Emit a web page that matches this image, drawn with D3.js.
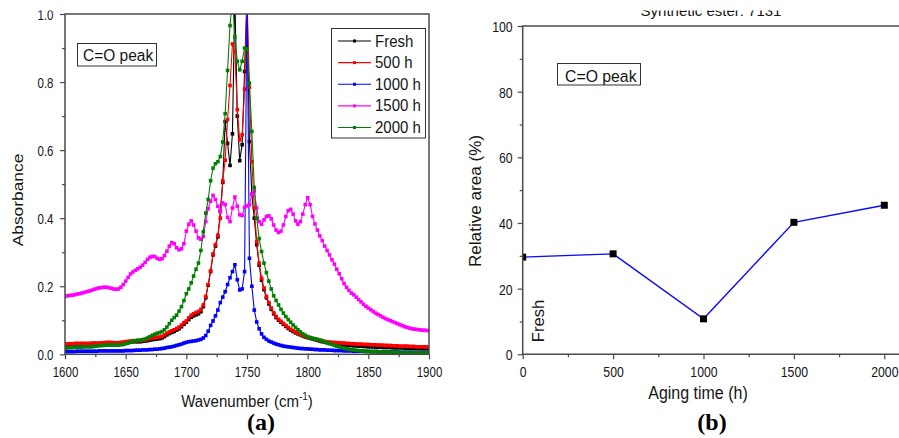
<!DOCTYPE html>
<html>
<head>
<meta charset="utf-8">
<script src="https://cdn.jsdelivr.net/npm/d3@7"></script>
<style>
  html, body { margin: 0; padding: 0; background: #fff; overflow: hidden; }
  svg { display: block; }
</style>
</head>
<body>
<script>
// ---- data (a): FTIR spectra, one value every 2 cm-1 from 1600 to 1900 ----
var wavenumber = d3.range(1600, 1901, 2);

var fresh = [
  .027,.028,.028,.028,.029,.029,.029,.029,.029,.029,
  .029,.030,.030,.030,.030,.031,.031,.032,.032,.032,
  .031,.031,.031,.032,.033,.034,.035,.036,.037,.037,
  .037,.037,.038,.039,.040,.042,.043,.044,.045,.046,
  .048,.052,.057,.061,.064,.067,.071,.075,.081,.088,
  .094,.102,.109,.113,.116,.119,.125,.140,.166,.203,
  .243,.292,.318,.345,.420,.505,.684,.620,.555,.648,
  1.05,.700,.569,.616,.831,1.05,.625,.470,.400,.322,
  .262,.218,.190,.166,.148,.132,.119,.108,.100,.094,
  .088,.082,.076,.071,.067,.063,.060,.057,.054,.051,
  .049,.047,.045,.043,.041,.039,.037,.036,.034,.033,
  .032,.031,.030,.029,.028,.028,.027,.026,.026,.025,
  .025,.024,.024,.023,.023,.022,.022,.022,.021,.021,
  .021,.020,.020,.020,.020,.019,.019,.019,.019,.019,
  .018,.018,.018,.018,.018,.018,.017,.017,.017,.017,
  .017];

var h500 = [
  .030,.031,.031,.031,.032,.032,.032,.032,.032,.032,
  .032,.033,.033,.033,.033,.034,.034,.035,.035,.035,
  .034,.034,.034,.035,.036,.037,.038,.039,.040,.040,
  .040,.040,.041,.042,.044,.046,.048,.049,.050,.051,
  .053,.057,.062,.066,.069,.072,.076,.080,.086,.093,
  .098,.107,.115,.119,.123,.126,.132,.145,.170,.205,
  .245,.295,.322,.350,.400,.510,.570,.690,.790,.912,
  .890,.719,.630,.645,.779,1.05,.785,.566,.430,.331,
  .268,.224,.195,.170,.152,.136,.122,.111,.103,.097,
  .091,.085,.079,.074,.069,.066,.062,.059,.056,.053,
  .051,.049,.047,.045,.043,.041,.040,.038,.037,.036,
  .035,.035,.034,.034,.033,.033,.032,.032,.031,.031,
  .030,.030,.030,.029,.029,.029,.028,.028,.028,.027,
  .027,.027,.026,.026,.026,.025,.025,.025,.024,.024,
  .024,.024,.023,.023,.023,.022,.022,.022,.022,.022,
  .021];

var h1000 = [
  .008,.008,.008,.008,.008,.009,.009,.009,.009,.009,
  .009,.009,.009,.009,.010,.010,.010,.010,.010,.010,
  .010,.010,.010,.010,.010,.011,.011,.011,.011,.012,
  .012,.012,.013,.013,.013,.014,.014,.015,.015,.016,
  .017,.018,.020,.021,.022,.024,.026,.028,.030,.033,
  .035,.037,.038,.039,.040,.042,.044,.048,.055,.068,
  .085,.098,.113,.130,.152,.168,.184,.205,.225,.243,
  .263,.219,.189,.192,.243,1.05,.282,.200,.130,.095,
  .075,.060,.050,.044,.039,.036,.033,.030,.028,.026,
  .024,.023,.022,.021,.020,.019,.018,.017,.017,.016,
  .016,.015,.015,.014,.014,.013,.013,.013,.012,.012,
  .012,.011,.011,.011,.011,.010,.010,.010,.010,.009,
  .009,.009,.009,.009,.008,.008,.008,.008,.008,.008,
  .007,.007,.007,.007,.007,.007,.007,.007,.006,.006,
  .006,.006,.006,.006,.006,.006,.006,.006,.006,.006,
  .006];

var h1500 = [
  .171,.172,.173,.174,.175,.177,.178,.180,.182,.184,
  .186,.188,.191,.193,.195,.196,.197,.197,.196,.194,
  .192,.191,.192,.197,.205,.215,.226,.236,.242,.247,
  .251,.256,.262,.270,.279,.285,.288,.287,.282,.279,
  .281,.290,.303,.318,.328,.325,.313,.307,.310,.325,
  .362,.382,.392,.380,.362,.342,.338,.346,.390,.428,
  .450,.467,.455,.435,.420,.445,.440,.402,.390,.430,
  .462,.435,.410,.408,.432,.436,.440,.470,.480,.430,
  .390,.382,.395,.405,.407,.398,.380,.365,.358,.362,
  .380,.405,.422,.426,.412,.392,.382,.390,.412,.440,
  .460,.440,.405,.383,.365,.348,.334,.318,.305,.292,
  .278,.265,.250,.237,.222,.208,.197,.188,.180,.175,
  .168,.161,.154,.147,.141,.136,.131,.126,.121,.117,
  .113,.109,.105,.102,.099,.096,.093,.090,.087,.084,
  .081,.079,.077,.075,.074,.073,.072,.071,.071,.070,
  .070];

var h2000 = [
  .019,.019,.020,.020,.021,.021,.021,.021,.022,.022,
  .022,.022,.023,.024,.025,.026,.026,.027,.027,.027,
  .027,.027,.027,.028,.029,.031,.033,.036,.038,.040,
  .041,.042,.043,.045,.048,.052,.056,.059,.062,.064,
  .067,.072,.080,.090,.100,.108,.115,.127,.140,.158,
  .178,.192,.210,.230,.250,.268,.305,.360,.415,.455,
  .510,.547,.560,.566,.581,.624,.707,.834,.966,1.05,
  .932,.861,.836,.861,.900,.897,.797,.655,.490,.400,
  .340,.302,.268,.240,.215,.192,.172,.158,.145,.132,
  .121,.111,.102,.094,.086,.079,.072,.066,.060,.056,
  .052,.049,.047,.045,.044,.042,.040,.037,.034,.031,
  .029,.026,.024,.022,.020,.018,.016,.015,.014,.013,
  .012,.011,.010,.010,.009,.009,.008,.008,.008,.007,
  .007,.007,.007,.006,.006,.006,.006,.006,.006,.005,
  .005,.005,.005,.005,.005,.005,.005,.005,.005,.005,
  .005];

var seriesNames = ["Fresh", "500 h", "1000 h", "1500 h", "2000 h"];
var seriesColors = ["#000000", "#ff0000", "#0000ff", "#ff00ff", "#008000"];
var seriesValues = [fresh, h500, h1000, h1500, h2000];

var waveTicks = [1600, 1650, 1700, 1750, 1800, 1850, 1900];
var absTicks = [0, 0.2, 0.4, 0.6, 0.8, 1.0];

// ---- data (b): relative area of the C=O peak ----
var agingTime = [0, 500, 1000, 1500, 2000];
var relArea = [29.6, 30.6, 10.8, 40.2, 45.4];
var timeTicks = [0, 500, 1000, 1500, 2000];
var areaTicks = [0, 20, 40, 60, 80, 100];

var sans = "'Liberation Sans', Arial, sans-serif";
var axisCol = "#4a4a4a";

var svg = d3.select("body").append("svg")
  .attr("width", 899)
  .attr("height", 438);
svg.append("rect").attr("width", 899).attr("height", 438).attr("fill", "#fff");

// text helper; sy stretches glyphs vertically like the reference image
function txt(g, x, y, s, o) {
  o = o || {};
  var sy = o.sy || 1;
  var tr = "translate(" + x + "," + y + ")";
  if (o.rot) tr += " rotate(" + o.rot + ") scale(" + sy + ",1)";
  else tr += " scale(1," + sy + ")";
  return g.append("text")
    .attr("transform", tr)
    .attr("text-anchor", o.anchor || "start")
    .style("font-family", o.family || sans)
    .style("font-size", (o.size || 16) + "px")
    .style("font-weight", o.weight || "normal")
    .attr("fill", o.fill || "#151515")
    .text(s);
}

function styleAxis(g, size) {
  g.attr("font-family", sans).attr("font-size", size).style("color", axisCol);
  g.select(".domain").remove();
  g.selectAll(".tick line").attr("stroke-width", 1.2);
  g.selectAll(".tick text").attr("fill", "#151515");
}

// ================= panel (a) =================
var xA = d3.scaleLinear().domain([1600, 1900]).range([65, 429]);
var yA = d3.scaleLinear().domain([0, 1]).range([354.3, 14]);

svg.append("clipPath").attr("id", "clipA").append("rect")
  .attr("x", 65).attr("y", 14).attr("width", 364).attr("height", 340.3);

var gA = svg.append("g");

var minorA = gA.append("g").attr("transform", "translate(0,354.3)")
  .call(d3.axisBottom(xA).tickValues([1625, 1675, 1725, 1775, 1825, 1875]).tickSize(3).tickFormat(""));
styleAxis(minorA, 11.5);
var minorAy = gA.append("g").attr("transform", "translate(65,0)")
  .call(d3.axisLeft(yA).tickValues([0.1, 0.3, 0.5, 0.7, 0.9]).tickSize(3).tickFormat(""));
styleAxis(minorAy, 11.5);

var axA = gA.append("g").attr("transform", "translate(0,354.3)")
  .call(d3.axisBottom(xA).tickValues(waveTicks).tickSize(5).tickFormat(d3.format("d")));
styleAxis(axA, 11.5);
axA.selectAll(".tick text").attr("y", null).attr("dy", null)
  .attr("transform", "translate(0,23) scale(1,1.22)");

var ayA = gA.append("g").attr("transform", "translate(65,0)")
  .call(d3.axisLeft(yA).tickValues(absTicks).tickSize(5).tickFormat(d3.format(".1f")));
styleAxis(ayA, 11.5);
ayA.selectAll(".tick text").attr("x", null).attr("dy", null)
  .attr("transform", "translate(-11.5,5.2) scale(1,1.22)");

var plotA = gA.append("g").attr("clip-path", "url(#clipA)");
var lineA = d3.line()
  .x(function(d) { return xA(d[0]); })
  .y(function(d) { return yA(d[1]); });

seriesValues.forEach(function(vals, si) {
  var pts = wavenumber.map(function(w, i) { return [w, vals[i]]; });
  var g = plotA.append("g");
  g.append("path").datum(pts)
    .attr("d", lineA)
    .attr("fill", "none")
    .attr("stroke", seriesColors[si])
    .attr("stroke-width", 1.1);
  g.selectAll("rect").data(pts).enter().append("rect")
    .attr("x", function(d) { return xA(d[0]) - 1.8; })
    .attr("y", function(d) { return yA(d[1]) - 1.8; })
    .attr("width", 3.6).attr("height", 3.6)
    .attr("fill", seriesColors[si]);
});

gA.append("rect")
  .attr("x", 65).attr("y", 14).attr("width", 364).attr("height", 340.3)
  .attr("fill", "none").attr("stroke", axisCol).attr("stroke-width", 1.5);

// C=O label box
gA.append("rect").attr("x", 77.5).attr("y", 43.5).attr("width", 79).attr("height", 22.5)
  .attr("fill", "#fff").attr("stroke", "#333").attr("stroke-width", 1);
txt(gA, 83, 61, "C=O peak", {size: 15.5, sy: 1.1});

// legend
var leg = gA.append("g");
leg.append("rect").attr("x", 331.5).attr("y", 28.5).attr("width", 94).attr("height", 109.5)
  .attr("fill", "#fff").attr("stroke", "#333").attr("stroke-width", 1);
var legY = d3.scalePoint().domain(seriesNames).range([41, 127.5]);
seriesNames.forEach(function(name, si) {
  var y = legY(name);
  leg.append("line").attr("x1", 338).attr("x2", 371).attr("y1", y).attr("y2", y)
    .attr("stroke", seriesColors[si]).attr("stroke-width", 1.2);
  leg.append("rect").attr("x", 353).attr("y", y - 1.5).attr("width", 3).attr("height", 3)
    .attr("fill", seriesColors[si]);
  txt(leg, 375, y + 5.6, name, {size: 15, sy: 1.1});
});

// axis titles
var tw = txt(gA, 247, 406.5, "", {size: 15, sy: 1.08, anchor: "middle"});
tw.append("tspan").text("Wavenumber (cm");
tw.append("tspan").attr("dy", -6).style("font-size", "10px").text("-1");
tw.append("tspan").attr("dy", 6).text(")");
txt(gA, 23, 200, "Absorbance", {size: 15.5, sy: 1.12, rot: -90, anchor: "middle"});
txt(gA, 261, 430, "(a)", {size: 24, weight: "bold", family: "'Liberation Serif', 'Times New Roman', serif", anchor: "middle", fill: "#000"});

// ================= panel (b) =================
var xB = d3.scaleLinear().domain([0, 2000]).range([522.7, 884.3]);
var yB = d3.scaleLinear().domain([0, 100]).range([354.3, 26]);

svg.append("clipPath").attr("id", "clipB").append("rect")
  .attr("x", 522.7).attr("y", 26).attr("width", 400).attr("height", 328.3);

var gB = svg.append("g");

var minorB = gB.append("g").attr("transform", "translate(0,354.3)")
  .call(d3.axisBottom(xB).tickValues([250, 750, 1250, 1750]).tickSize(3).tickFormat(""));
styleAxis(minorB, 12.3);
var minorBy = gB.append("g").attr("transform", "translate(522.7,0)")
  .call(d3.axisLeft(yB).tickValues([10, 30, 50, 70, 90]).tickSize(3).tickFormat(""));
styleAxis(minorBy, 12.3);

var axB = gB.append("g").attr("transform", "translate(0,354.3)")
  .call(d3.axisBottom(xB).tickValues(timeTicks).tickSize(5).tickFormat(d3.format("d")));
styleAxis(axB, 12.3);
axB.selectAll(".tick text").attr("y", null).attr("dy", null)
  .attr("transform", "translate(0,22.5) scale(1,1.12)");

var ayB = gB.append("g").attr("transform", "translate(522.7,0)")
  .call(d3.axisLeft(yB).tickValues(areaTicks).tickSize(5).tickFormat(d3.format("d")));
styleAxis(ayB, 12.3);
ayB.selectAll(".tick text").attr("x", null).attr("dy", null)
  .attr("transform", "translate(-10,5.4) scale(1,1.12)");

var plotB = gB.append("g").attr("clip-path", "url(#clipB)");
var ptsB = agingTime.map(function(t, i) { return [t, relArea[i]]; });
plotB.append("path").datum(ptsB)
  .attr("d", d3.line().x(function(d) { return xB(d[0]); }).y(function(d) { return yB(d[1]); }))
  .attr("fill", "none").attr("stroke", "#0a0aff").attr("stroke-width", 1.4);
plotB.selectAll("rect.pt").data(ptsB).enter().append("rect")
  .attr("class", "pt")
  .attr("x", function(d) { return xB(d[0]) - 3.5; })
  .attr("y", function(d) { return yB(d[1]) - 3.5; })
  .attr("width", 7).attr("height", 7)
  .attr("fill", "#000");

gB.append("path")
  .attr("d", "M905,26H522.7V354.3H905")
  .attr("fill", "none").attr("stroke", axisCol).attr("stroke-width", 1.5);

gB.append("rect").attr("x", 557.5).attr("y", 63.5).attr("width", 83).attr("height", 21.5)
  .attr("fill", "#fff").attr("stroke", "#333").attr("stroke-width", 1);
txt(gB, 565, 81.5, "C=O peak", {size: 15.8, sy: 1.08});

txt(gB, 543.5, 321, "Fresh", {size: 16, sy: 1.04, rot: -90, anchor: "middle"});
txt(gB, 698, 399, "Aging time (h)", {size: 16, sy: 1.1, anchor: "middle"});
txt(gB, 481, 201, "Relative area (%)", {size: 16, sy: 1.07, rot: -90, anchor: "middle"});
txt(gB, 712, 430, "(b)", {size: 24, weight: "bold", family: "'Liberation Serif', 'Times New Roman', serif", anchor: "middle", fill: "#000"});

// panel title, only its lower part shows in the cropped figure
txt(gB, 711, 16, "Synthetic ester: 7131", {size: 15, anchor: "middle"});

// the figure is cut at the top edge
svg.append("rect").attr("x", 0).attr("y", 0).attr("width", 899).attr("height", 10.5).attr("fill", "#fff");
</script>
</body>
</html>
